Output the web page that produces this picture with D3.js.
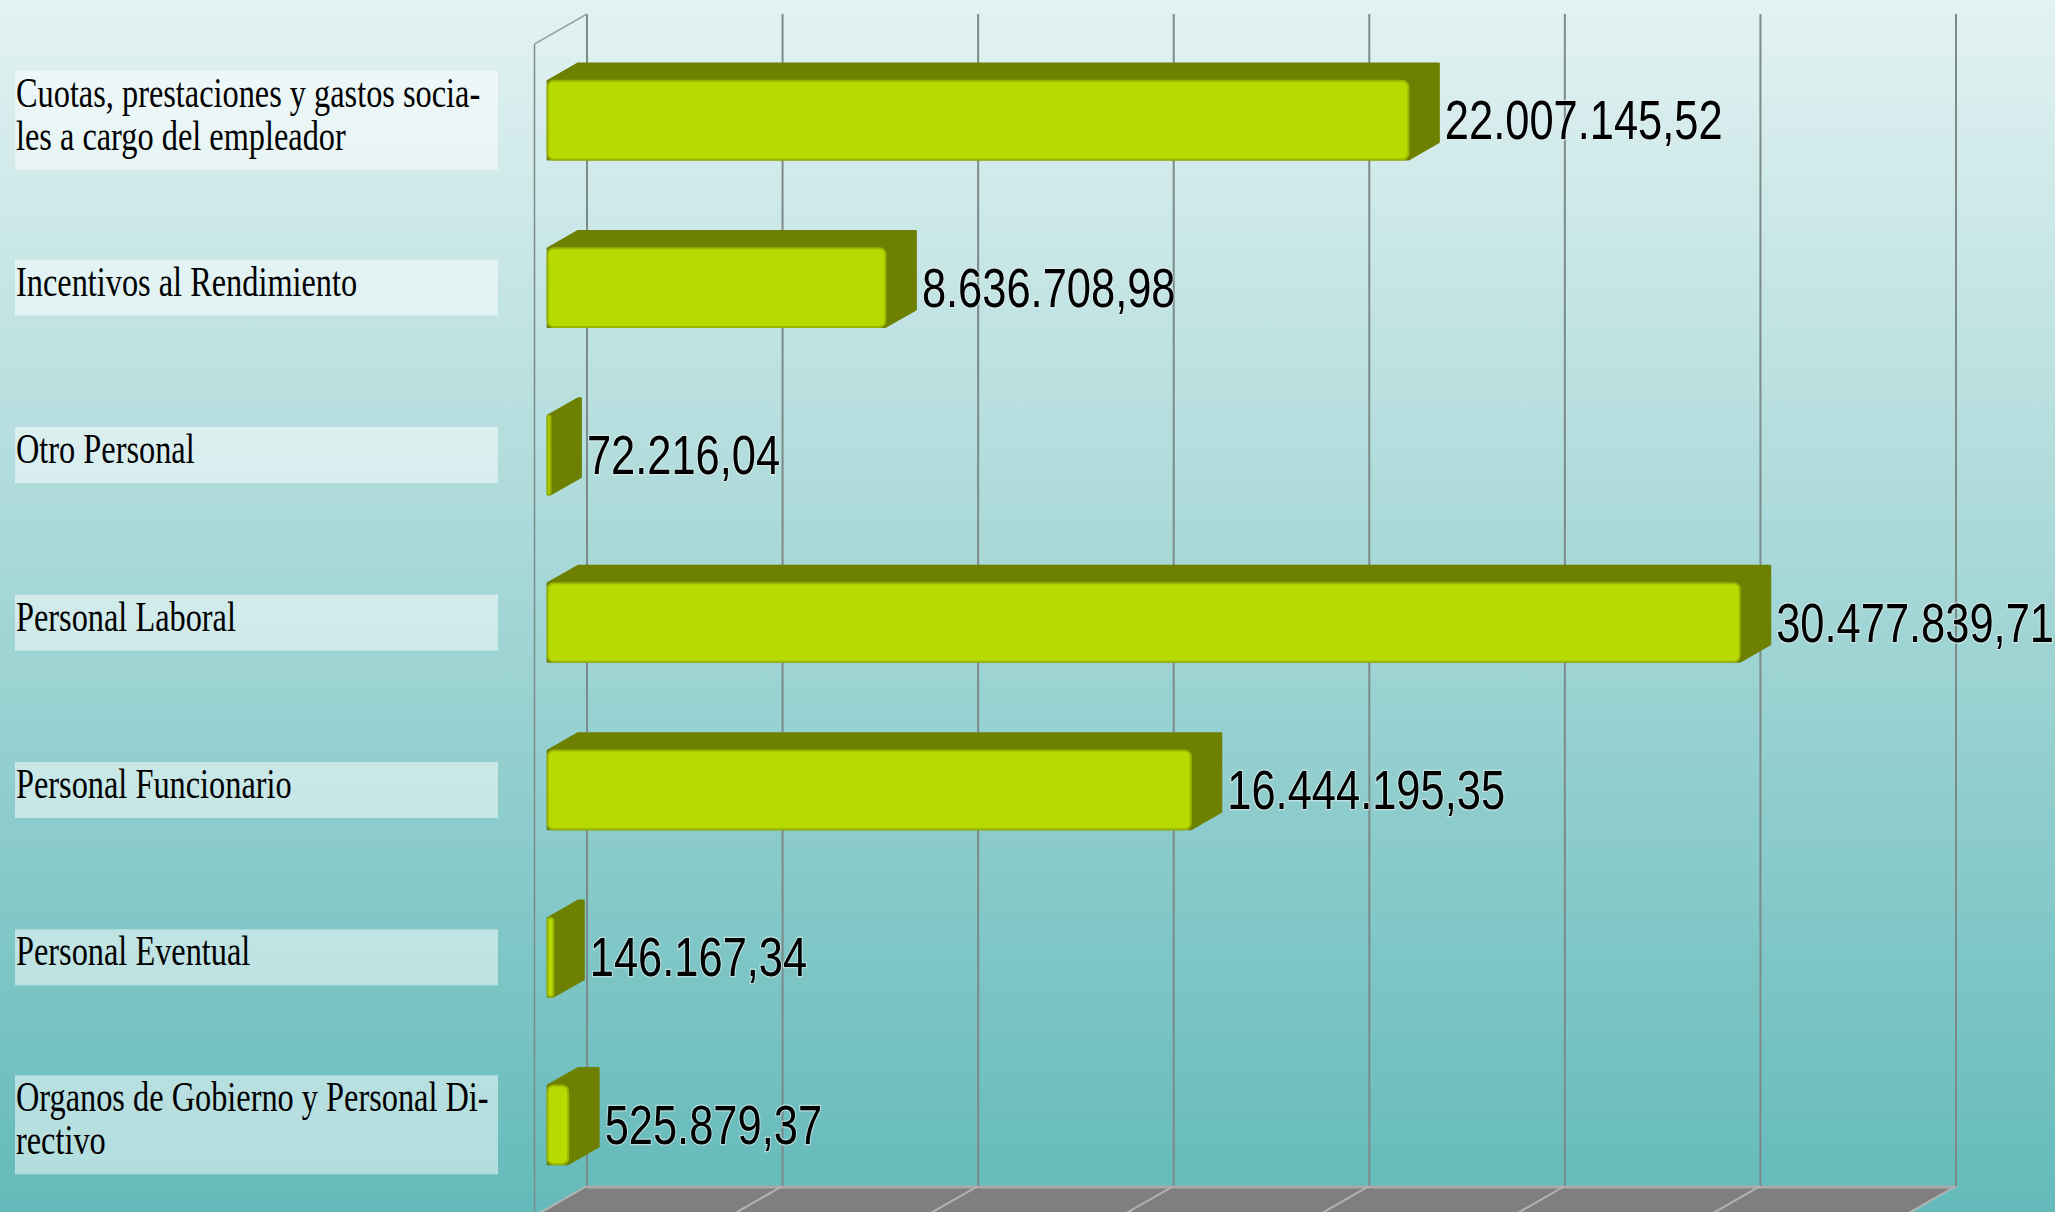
<!DOCTYPE html>
<html lang="es">
<head>
<meta charset="utf-8">
<title>Gastos de personal</title>
<script src="https://cdn.jsdelivr.net/npm/d3@7/dist/d3.min.js"></script>
<style>
body { margin: 0; overflow: hidden; }
.cat_label { font-family: "Liberation Serif", serif; font-size: 42px; fill: #000; }
.value_label {
  font-family: "Liberation Sans", sans-serif;
  font-size: 55px; fill: #000;
  stroke: #e4eeee; stroke-width: 2.5px; stroke-opacity: 0.6; paint-order: stroke;
}
</style>
</head>
<body>
<script>
// categories, top to bottom, with their line breaks as in the original
var categories = [
  "Cuotas, prestaciones y gastos sociales a cargo del empleador",
  "Incentivos al Rendimiento",
  "Otro Personal",
  "Personal Laboral",
  "Personal Funcionario",
  "Personal Eventual",
  "Organos de Gobierno y Personal Directivo"
];
var labelLines = [
  ["Cuotas, prestaciones y gastos socia-", "les a cargo del empleador"],
  ["Incentivos al Rendimiento"],
  ["Otro Personal"],
  ["Personal Laboral"],
  ["Personal Funcionario"],
  ["Personal Eventual"],
  ["Organos de Gobierno y Personal Di-", "rectivo"]
];
var values = [22007145.52, 8636708.98, 72216.04, 30477839.71, 16444195.35, 146167.34, 525879.37];
var axisMax = 35000000;
var tickStep = 5000000;

var W = 2055, H = 1212;
// front plane of the 3d box and the depth vector
var X0 = 534.5, X1 = 1903.5, Y0 = 44, Y1 = 1216;
var DX = 52.5, DY = 30;
var barFront = 0.25, barDepth = 0.58;   // fractions of the depth

var es = d3.formatLocale({decimal: ",", thousands: ".", grouping: [3], currency: ["", " €"]});
var fmt = es.format(",.2f");

var svg = d3.select("body").append("svg")
  .attr("width", W)
  .attr("height", H);

var defs = svg.append("defs");
var grad = defs.append("linearGradient")
  .attr("id", "bg")
  .attr("x1", 0).attr("y1", 0).attr("x2", 0).attr("y2", 1);
grad.append("stop").attr("offset", "0%").attr("stop-color", "#e3f2f2");
grad.append("stop").attr("offset", "100%").attr("stop-color", "#64baba");

svg.append("rect")
  .attr("width", W).attr("height", H)
  .attr("fill", "url(#bg)");

var xScale = d3.scaleLinear()
  .domain([0, axisMax])
  .range([0, X1 - X0]);

var yScale = d3.scaleBand()
  .domain(categories)
  .range([Y0, Y1])
  .paddingInner(0.53)
  .paddingOuter(0.265);

var ticks = d3.range(0, axisMax + 1, tickStep);

//-------------- floor --------------------
svg.append("polygon")
  .attr("points", [
    [X0 + DX, Y1 - DY], [X1 + DX, Y1 - DY], [X1, Y1], [X0, Y1]
  ].join(" "))
  .attr("fill", "#7f7f7f");

svg.append("line")
  .attr("x1", X0 + DX).attr("x2", X1 + DX)
  .attr("y1", Y1 - DY + 1).attr("y2", Y1 - DY + 1)
  .attr("stroke", "#a9a9a9")
  .attr("stroke-width", 3);

svg.selectAll(".floor_line")
  .data(ticks)
  .enter()
  .append("line")
    .attr("class", "floor_line")
    .attr("x1", function(d) { return X0 + DX + xScale(d); })
    .attr("y1", Y1 - DY)
    .attr("x2", function(d) { return X0 + xScale(d); })
    .attr("y2", Y1)
    .attr("stroke", "#b4b4b4")
    .attr("stroke-width", 2);

//-------------- walls and grid --------------------
svg.selectAll(".grid")
  .data(ticks)
  .enter()
  .append("line")
    .attr("class", "grid")
    .attr("x1", function(d) { return X0 + DX + xScale(d); })
    .attr("x2", function(d) { return X0 + DX + xScale(d); })
    .attr("y1", Y0 - DY)
    .attr("y2", Y1 - DY)
    .attr("stroke", "#7d8a8a")
    .attr("stroke-width", 2);

// left wall, only its outline
svg.append("line")
  .attr("x1", X0).attr("x2", X0)
  .attr("y1", Y0).attr("y2", H)
  .attr("stroke", "#7d8a8a")
  .attr("stroke-width", 1.5);
svg.append("line")
  .attr("x1", X0).attr("y1", Y0)
  .attr("x2", X0 + DX).attr("y2", Y0 - DY)
  .attr("stroke", "#9aa5a5")
  .attr("stroke-width", 1.5);

//-------------- category labels --------------------
var lineH = 43;
var cats = svg.selectAll(".cat")
  .data(categories)
  .enter()
  .append("g")
    .attr("class", "cat")
    .attr("transform", function(d, i) {
      var n = labelLines[i].length;
      var cy = yScale(d) + yScale.bandwidth() / 2 - barFront * DY;
      return "translate(15," + (cy - (n * lineH + 13) / 2) + ")";
    });

cats.append("rect")
  .attr("width", 483)
  .attr("height", function(d, i) { return labelLines[i].length * lineH + 13; })
  .attr("fill", "#ffffff")
  .attr("fill-opacity", 0.5);

cats.selectAll("text")
  .data(function(d, i) { return labelLines[i]; })
  .enter()
  .append("text")
    .attr("class", "cat_label")
    .attr("transform", function(d, j) {
      return "translate(1," + (36 + j * lineH) + ") scale(0.77,1)";
    })
    .text(function(d) { return d; });

//-------------- bars --------------------
var bdx = barDepth * DX, bdy = barDepth * DY;
var bars = svg.selectAll(".bar")
  .data(categories)
  .enter()
  .append("g")
    .attr("class", "bar");

// top and side faces
bars.append("polygon")
  .attr("points", function(d, i) {
    var x0 = X0 + barFront * DX,
        x1 = x0 + xScale(values[i]),
        yT = yScale(d) - barFront * DY,
        yB = yT + yScale.bandwidth();
    return [[x0, yT], [x0 + bdx, yT - bdy], [x1 + bdx, yT - bdy],
            [x1 + bdx, yB - bdy], [x1, yB], [x0, yB]].join(" ");
  })
  .attr("fill", "#6e8000")
  .attr("stroke", "#6e8000")
  .attr("stroke-width", 2)
  .attr("stroke-linejoin", "round");

// front face
bars.append("rect")
  .attr("x", X0 + barFront * DX)
  .attr("y", function(d) { return yScale(d) - barFront * DY; })
  .attr("width", function(d, i) { return Math.max(xScale(values[i]), 1); })
  .attr("height", yScale.bandwidth())
  .attr("rx", function(d, i) { return Math.min(6, xScale(values[i]) / 2); })
  .attr("fill", "#b8da00")
  .attr("stroke", "#9ab500")
  .attr("stroke-width", 2);

//-------------- value labels --------------------
svg.selectAll(".value_label")
  .data(categories)
  .enter()
  .append("text")
    .attr("class", "value_label")
    .attr("transform", function(d, i) {
      var x = X0 + barFront * DX + xScale(values[i]) + bdx + 6;
      var y = yScale(d) - barFront * DY + yScale.bandwidth() / 2 + 19;
      return "translate(" + x + "," + y + ") scale(0.79,1)";
    })
    .text(function(d, i) { return fmt(values[i]); });
</script>
</body>
</html>
